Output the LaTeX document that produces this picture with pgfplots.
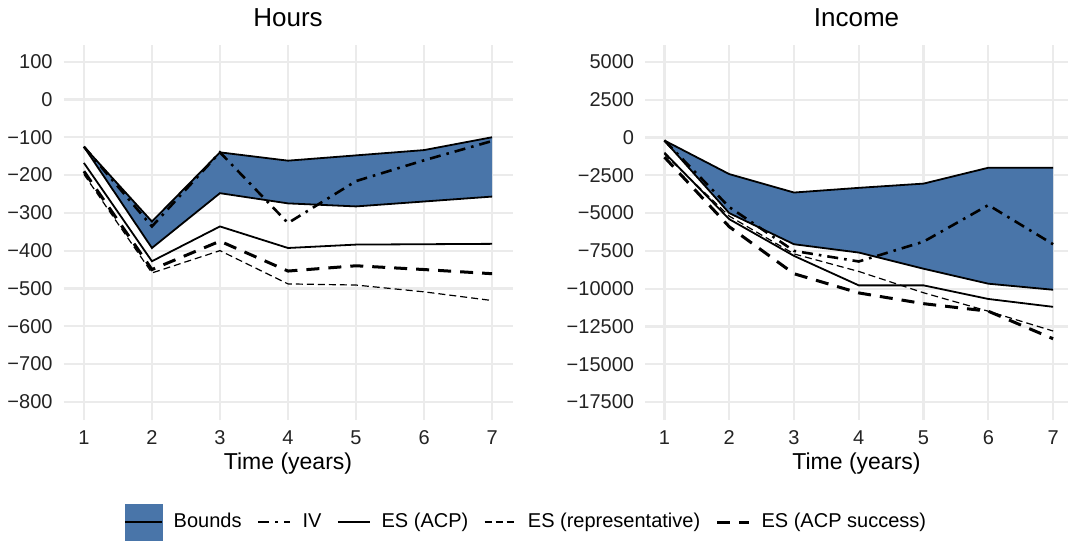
\documentclass[border=0pt]{standalone}
\usepackage{fontspec}
\setmainfont{Liberation Sans}
\usepackage{pgfplots}
\pgfplotsset{compat=1.18}
\definecolor{boundblue}{RGB}{73,117,169}
\definecolor{gridgray}{RGB}{235,235,235}
\definecolor{ticktext}{RGB}{35,35,35}

\pgfplotsset{
  panel/.style={
    scale only axis,
    axis line style={draw=none},
    major tick length=0pt,
    tick style={draw=none},
    grid=major,
    major grid style={gridgray, line width=1.1pt},
    xmin=0.7,
    xtick={1,2,3,4,5,6,7},
    xticklabels={1,2,3,4,5,6,7},
    tick label style={font=\fontsize{10}{12}\selectfont, inner sep=0pt, text=ticktext},
    xticklabel style={anchor=north, yshift=-5pt},
    yticklabel style={anchor=east, xshift=-5.3pt},
    every axis title/.style={at={(0.5,1)}, anchor=base, yshift=9pt, font=\fontsize{13}{15}\selectfont},
    every axis x label/.style={at={(axis description cs:0.5,-0.1333)}, anchor=base, font=\fontsize{11.5}{14}\selectfont, inner sep=0pt},
    xlabel={Time (years)},
    height=187.5pt,
  },
  bnd/.style={black, line width=0.9pt},
  ivs/.style={black, line width=1.3pt, dash pattern=on 5.5pt off 3pt on 1.3pt off 3pt},
  acp/.style={black, line width=0.9pt},
  rep/.style={black, line width=0.6pt, dash pattern=on 3.5pt off 2pt},
  succ/.style={black, line width=1.5pt, dash pattern=on 6.5pt off 4.5pt},
}

\begin{document}
\begin{tikzpicture}
\path[use as bounding box] (0,0) rectangle (534pt,270pt);

% ---------------- Hours ----------------
\begin{axis}[panel,
  at={(31.75pt,60pt)}, anchor=south west,
  width=224.5pt,
  xmax=7.3,
  ymin=-848, ymax=144,
  ytick={100,0,-100,-200,-300,-400,-500,-600,-700,-800},
  yticklabels={100,0,−100,−200,−300,−400,−500,−600,−700,−800},
  title={Hours},
  legend image code/.code={\draw[#1] (0pt,0pt) -- (16pt,0pt);},
  legend style={at={(axis description cs:1.0323,-0.272)}, anchor=center,
    draw=none, fill=none, legend columns=-1,
    font=\fontsize{10}{12}\selectfont,
    /tikz/every even column/.append style={column sep=5.8pt},
    /tikz/every odd column/.append style={column sep=3.4pt}},
]
\addplot[fill=boundblue, draw=none, forget plot] coordinates {
  (1,-125) (2,-323) (3,-140) (4,-162) (5,-148) (6,-134) (7,-100)
  (7,-257) (6,-270) (5,-283) (4,-275) (3,-248) (2,-393) (1,-125)} -- cycle;
\addplot[bnd, forget plot] coordinates {(1,-125) (2,-323) (3,-140) (4,-162) (5,-148) (6,-134) (7,-100)};
\addplot[bnd, forget plot] coordinates {(1,-125) (2,-393) (3,-248) (4,-275) (5,-283) (6,-270) (7,-257)};
\addplot[ivs, forget plot] coordinates {(1,-125) (2,-336) (3,-140) (4,-327) (5,-216) (6,-161) (7,-110)};
\addplot[acp, forget plot] coordinates {(1,-168) (2,-428) (3,-336) (4,-393) (5,-384) (6,-383) (7,-382)};
\addplot[rep, forget plot] coordinates {(1,-198) (2,-459) (3,-400) (4,-488) (5,-491) (6,-509) (7,-532)};
\addplot[succ, forget plot] coordinates {(1,-190) (2,-450) (3,-375) (4,-454) (5,-440) (6,-450) (7,-461)};

\addlegendimage{legend image code/.code={\fill[boundblue] (0pt,-9pt) rectangle (18.5pt,9pt); \draw[black, line width=1pt] (0pt,0pt) -- (18.5pt,0pt);}}
\addlegendentry{Bounds}
\addlegendimage{ivs}
\addlegendentry{IV}
\addlegendimage{acp}
\addlegendentry{ES (ACP)}
\addlegendimage{rep}
\addlegendentry{ES (representative)}
\addlegendimage{succ}
\addlegendentry{ES (ACP success)}
\end{axis}

% ---------------- Income ----------------
\begin{axis}[panel,
  at={(322.5pt,60pt)}, anchor=south west,
  width=211.5pt,
  xmax=7.23,
  ymin=-18684, ymax=6118,
  ytick={5000,2500,0,-2500,-5000,-7500,-10000,-12500,-15000,-17500},
  yticklabels={5000,2500,0,−2500,−5000,−7500,−10000,−12500,−15000,−17500},
  scaled y ticks=false,
  title={Income},
]
\addplot[fill=boundblue, draw=none] coordinates {
  (1,-200) (2,-2420) (3,-3640) (4,-3330) (5,-3050) (6,-2000) (7,-2000)
  (7,-10070) (6,-9670) (5,-8680) (4,-7610) (3,-7060) (2,-5000) (1,-200)} -- cycle;
\addplot[bnd] coordinates {(1,-200) (2,-2420) (3,-3640) (4,-3330) (5,-3050) (6,-2000) (7,-2000)};
\addplot[bnd] coordinates {(1,-200) (2,-5000) (3,-7060) (4,-7610) (5,-8680) (6,-9670) (7,-10070)};
\addplot[ivs] coordinates {(1,-200) (2,-4600) (3,-7500) (4,-8200) (5,-6890) (6,-4470) (7,-7060)};
\addplot[acp] coordinates {(1,-1000) (2,-5400) (3,-7830) (4,-9780) (5,-9780) (6,-10680) (7,-11200)};
\addplot[rep] coordinates {(1,-1100) (2,-5200) (3,-7700) (4,-8860) (5,-10270) (6,-11490) (7,-12800)};
\addplot[succ] coordinates {(1,-1300) (2,-5900) (3,-9010) (4,-10280) (5,-10990) (6,-11490) (7,-13310)};
\end{axis}
\end{tikzpicture}
\end{document}
